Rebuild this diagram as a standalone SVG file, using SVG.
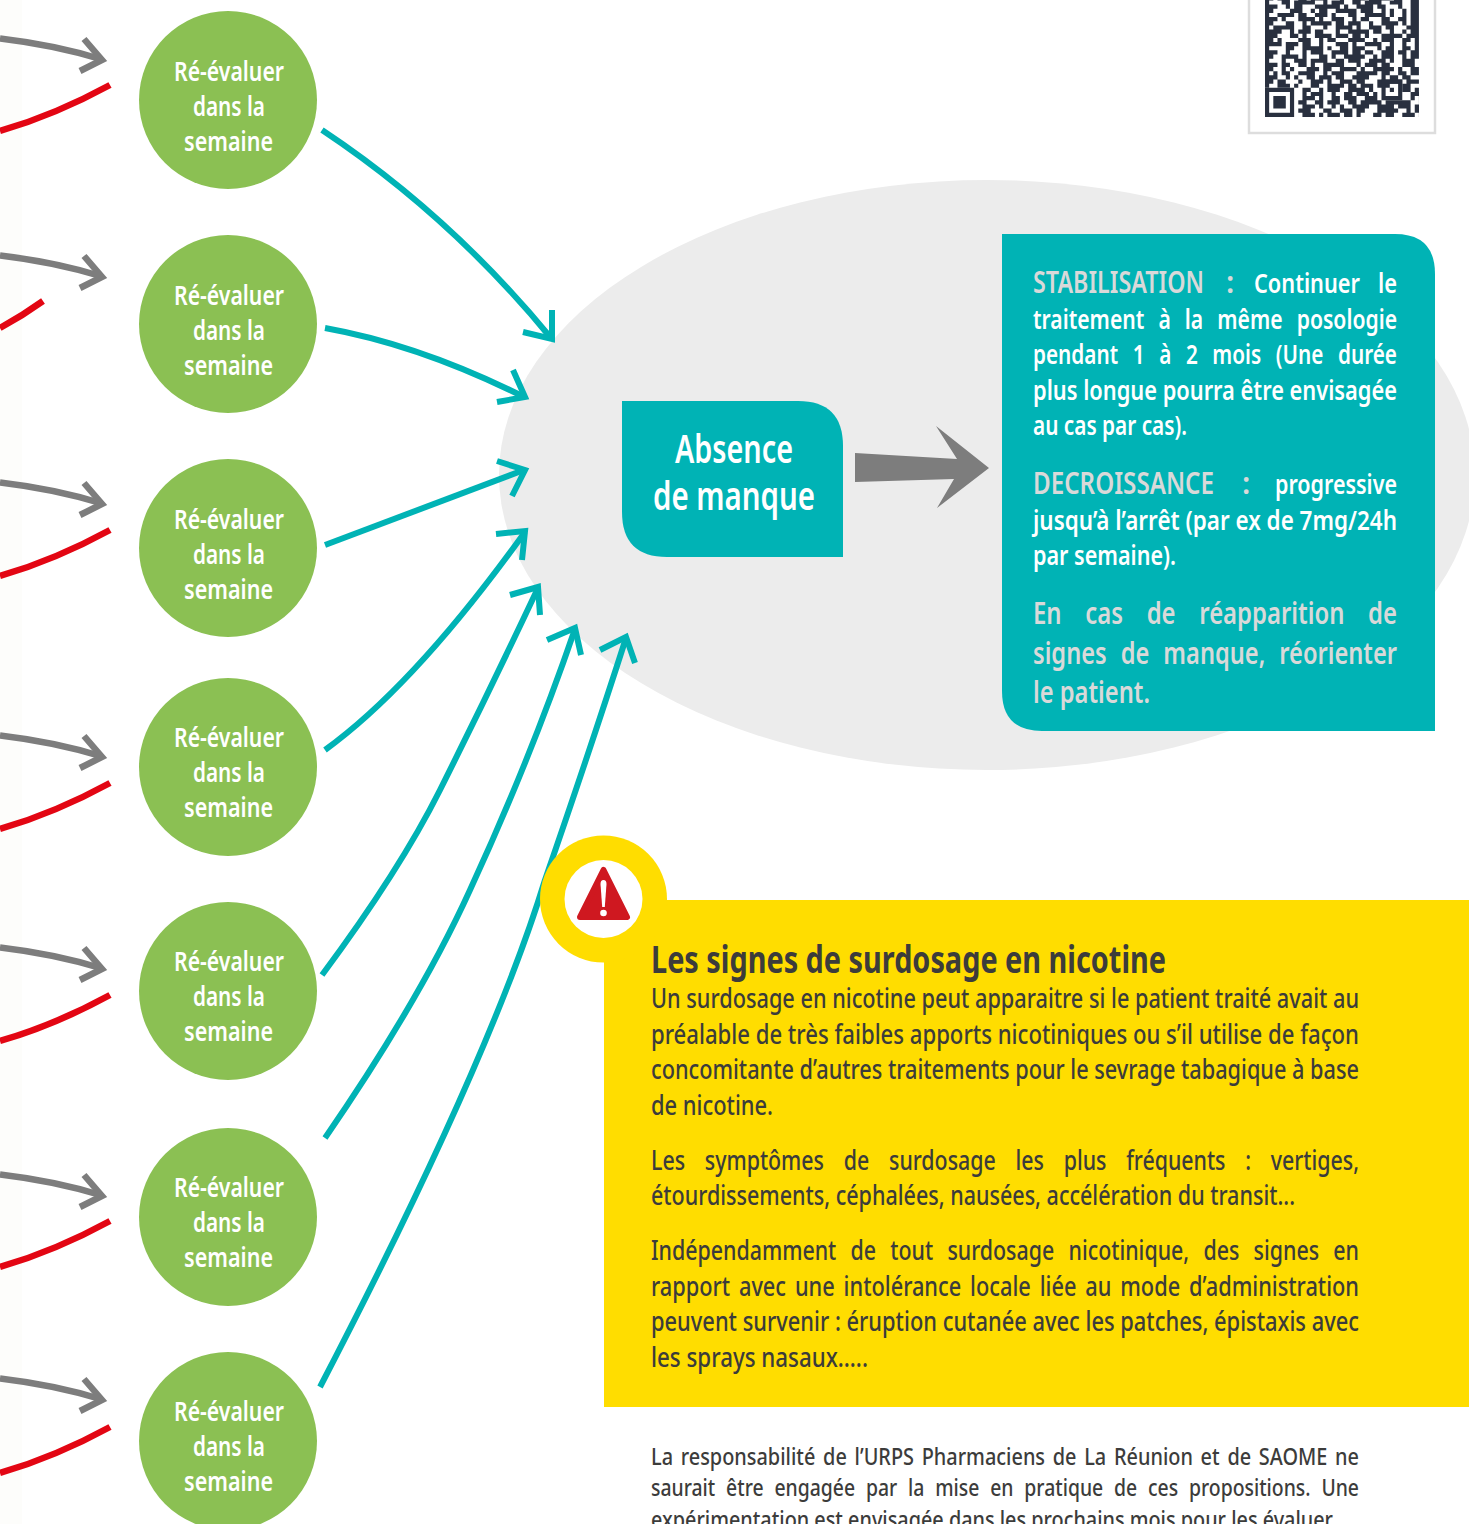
<svg xmlns="http://www.w3.org/2000/svg" width="1469" height="1524" viewBox="0 0 1469 1524">
<style>
text{font-family:"Noto Sans","Open Sans","Liberation Sans",sans-serif}
.n{fill:#8bc053}
.nt{fill:#fff;font-size:27px;font-weight:600;text-anchor:start}
.g{fill:none;stroke:#7d7d7d;stroke-width:6.5}
.r{fill:none;stroke:#e30613;stroke-width:6.5}
.t{fill:none;stroke:#00b3b5;stroke-width:6}
.w{fill:#fff;font-size:27px;font-weight:600}
.h{fill:#d9d9d9;font-size:30px;font-weight:600}
.b{fill:#3c3c3b;font-size:27px;font-weight:500}
.d{fill:#3c3c3b;font-size:23.5px;font-weight:500}
</style>
<defs>
<g id="ga"><path class="g" d="M0 38.5Q55 45 102 59.5"/><path class="g" d="M84 39L102 60L80 71"/></g>
<path id="ra" class="r" d="M0 131Q55 115 110 85"/>
<clipPath id="qc"><rect x="0" y="0" width="37" height="37"/></clipPath>
</defs>
<rect width="1469" height="1524" fill="#fff"/>
<rect width="22" height="1524" fill="#fdfdfb"/>
<g id="bubble"><ellipse cx="987" cy="475" rx="488" ry="295" fill="#ececec"/></g>
<g id="connectors">
<use href="#ga"/><use href="#ga" y="217"/><use href="#ga" y="444"/><use href="#ga" y="697"/><use href="#ga" y="909"/><use href="#ga" y="1136"/><use href="#ga" y="1340"/>
<use href="#ra"/><path class="r" d="M0 328Q22 316 43 301"/><use href="#ra" y="445"/><use href="#ra" y="698"/><use href="#ra" y="910"/><use href="#ra" y="1136"/><use href="#ra" y="1342"/>
<path class="t" d="M322 130Q450 215 551 338"/><path class="t" d="M552 310L552 339L523 332"/>
<path class="t" d="M325 328Q420 345 524 397"/><path class="t" d="M513 370L525 397L497 402"/>
<path class="t" d="M325 545L524 470"/><path class="t" d="M497 461L525 470L512 496"/>
<path class="t" d="M325 750Q415 685 525 532"/><path class="t" d="M496 534L525 531L522 560"/>
<path class="t" d="M322 975Q400 870 440 790Q490 690 538 588"/><path class="t" d="M510 595L538 587L540 615"/>
<path class="t" d="M325 1138Q420 1000 470 890Q530 760 575 629"/><path class="t" d="M547 640L575 628L581 655"/>
<path class="t" d="M320 1387Q490 1060 545 880Q590 750 626 638"/><path class="t" d="M600 650L626 637L635 663"/>
<polygon id="bigarrow" fill="#7d7d7d" points="855,453 957,459 936,426 989,468 937,508 954,479 855,482"/>
</g>
<g id="qr">
<rect x="1249" y="-5" width="186" height="138" fill="#fff" stroke="#ddd" stroke-width="2.5"/>
<g transform="translate(1265 -37) scale(4.16)" clip-path="url(#qc)">
<path fill="none" stroke="#29303f" stroke-width="1" d="M0 8.5h2m1 0h3m2 0h2m1 0h4m3 0h1m2 0h3m1 0h5m1 0h2m2 0h2M0 9.5h1m3 0h2m1 0h5m2 0h1m1 0h3m2 0h2m1 0h4m2 0h3m2 0h2M0 10.5h3m2 0h1m1 0h2m3 0h6m1 0h1m2 0h4m1 0h2m3 0h1m2 0h2M0 11.5h2m4 0h3m2 0h1m1 0h2m2 0h5m1 0h3m2 0h1m1 0h1m2 0h1m1 0h2M0 12.5h1m2 0h4m1 0h2m2 0h3m1 0h1m3 0h2m2 0h5m1 0h1m2 0h1m1 0h2M0 13.5h3m1 0h1m3 0h4m1 0h1m2 0h3m2 0h1m1 0h2m3 0h2m2 0h2m1 0h2M0 14.5h2m3 0h2m2 0h1m1 0h5m1 0h2m1 0h3m2 0h1m2 0h4m1 0h1m1 0h2M0 15.5h1m1 0h5m2 0h2m3 0h1m2 0h4m1 0h1m2 0h3m1 0h2m3 0h3M0 16.5h4m2 0h1m1 0h3m1 0h2m3 0h1m2 0h5m1 0h2m2 0h1m2 0h1m1 0h2M0 17.5h3m3 0h2m1 0h1m2 0h4m1 0h3m1 0h2m1 0h1m3 0h5m1 0h3M0 18.5h2m1 0h1m4 0h3m2 0h1m1 0h2m3 0h4m2 0h1m1 0h3m2 0h2m1 0h1M0 19.5h4m1 0h3m1 0h2m2 0h1m3 0h3m1 0h1m2 0h4m2 0h1m2 0h1m2 0h1M0 20.5h1m4 0h2m2 0h5m1 0h1m2 0h2m1 0h3m3 0h1m1 0h2m2 0h2m1 0h1M0 21.5h3m2 0h1m3 0h1m1 0h3m2 0h4m1 0h2m1 0h2m2 0h3m1 0h2m1 0h2M0 22.5h2m2 0h4m1 0h1m3 0h2m1 0h1m2 0h5m2 0h1m1 0h3m2 0h1m1 0h2M0 23.5h1m3 0h1m2 0h3m1 0h4m2 0h2m1 0h3m2 0h4m1 0h1m2 0h3M0 24.5h3m1 0h2m2 0h2m1 0h1m2 0h5m3 0h1m1 0h3m1 0h2m3 0h3M0 25.5h2m2 0h1m1 0h1m3 0h3m1 0h2m2 0h4m1 0h1m2 0h5m1 0h1m2 0h2M0 26.5h1m1 0h1m1 0h2m2 0h4m2 0h1m1 0h3m3 0h5m1 0h2m2 0h2m1 0h2M0 27.5h3m2 0h1m1 0h1m2 0h2m1 0h3m1 0h2m2 0h4m3 0h1m1 0h2m1 0h2M0 28.5h2m1 0h2m3 0h1m2 0h3m1 0h1m2 0h3m1 0h2m3 0h6m1 0h3M0 29.5h1m2 0h3m1 0h1m3 0h2m2 0h4m1 0h2m1 0h3m1 0h3m3 0h2M9 30.5h2m2 0h1m1 0h3m2 0h4m1 0h1m7 0h2m1 0h1M9 31.5h1m1 0h3m2 0h1m2 0h2m1 0h3m1 0h1m8 0h3M9 32.5h3m1 0h1m2 0h2m1 0h3m2 0h3m8 0h1m1 0h2M8 33.5h2m2 0h2m1 0h3m2 0h2m1 0h5m1 0h6m2 0h2M9 34.5h3m1 0h1m2 0h1m1 0h1m2 0h4m2 0h4m1 0h3m1 0h2M8 35.5h3m3 0h2m2 0h3m1 0h2m3 0h5m2 0h1m1 0h2M9 36.5h3m1 0h1m1 0h3m1 0h2m1 0h1m3 0h2m1 0h2m2 0h3m1 0h2"/>
<path fill="#29303f" fill-rule="evenodd" d="M0 30h7v7h-7zM1 31v5h5v-5zM2 32h3v3h-3zM28 28h5v5h-5zM29 29v3h3v-3zM30 30h1v1h-1z"/>
</g>
</g>
<g id="n1"><circle class="n" cx="228" cy="100" r="89"/><text class="nt" x="174" y="81" textLength="110" lengthAdjust="spacingAndGlyphs">Ré-évaluer</text><text class="nt" x="193" y="116" textLength="72" lengthAdjust="spacingAndGlyphs">dans la</text><text class="nt" x="184" y="151" textLength="89" lengthAdjust="spacingAndGlyphs">semaine</text></g>
<g id="n2"><circle class="n" cx="228" cy="324" r="89"/><text class="nt" x="174" y="305" textLength="110" lengthAdjust="spacingAndGlyphs">Ré-évaluer</text><text class="nt" x="193" y="340" textLength="72" lengthAdjust="spacingAndGlyphs">dans la</text><text class="nt" x="184" y="375" textLength="89" lengthAdjust="spacingAndGlyphs">semaine</text></g>
<g id="n3"><circle class="n" cx="228" cy="548" r="89"/><text class="nt" x="174" y="529" textLength="110" lengthAdjust="spacingAndGlyphs">Ré-évaluer</text><text class="nt" x="193" y="564" textLength="72" lengthAdjust="spacingAndGlyphs">dans la</text><text class="nt" x="184" y="599" textLength="89" lengthAdjust="spacingAndGlyphs">semaine</text></g>
<g id="n4"><circle class="n" cx="228" cy="767" r="89"/><text class="nt" x="174" y="747" textLength="110" lengthAdjust="spacingAndGlyphs">Ré-évaluer</text><text class="nt" x="193" y="782" textLength="72" lengthAdjust="spacingAndGlyphs">dans la</text><text class="nt" x="184" y="817" textLength="89" lengthAdjust="spacingAndGlyphs">semaine</text></g>
<g id="n5"><circle class="n" cx="228" cy="991" r="89"/><text class="nt" x="174" y="971" textLength="110" lengthAdjust="spacingAndGlyphs">Ré-évaluer</text><text class="nt" x="193" y="1006" textLength="72" lengthAdjust="spacingAndGlyphs">dans la</text><text class="nt" x="184" y="1041" textLength="89" lengthAdjust="spacingAndGlyphs">semaine</text></g>
<g id="n6"><circle class="n" cx="228" cy="1217" r="89"/><text class="nt" x="174" y="1197" textLength="110" lengthAdjust="spacingAndGlyphs">Ré-évaluer</text><text class="nt" x="193" y="1232" textLength="72" lengthAdjust="spacingAndGlyphs">dans la</text><text class="nt" x="184" y="1267" textLength="89" lengthAdjust="spacingAndGlyphs">semaine</text></g>
<g id="n7"><circle class="n" cx="228" cy="1441" r="89"/><text class="nt" x="174" y="1421" textLength="110" lengthAdjust="spacingAndGlyphs">Ré-évaluer</text><text class="nt" x="193" y="1456" textLength="72" lengthAdjust="spacingAndGlyphs">dans la</text><text class="nt" x="184" y="1491" textLength="89" lengthAdjust="spacingAndGlyphs">semaine</text></g>
<g id="absence">
<path fill="#00b3b5" d="M622 401H798Q843 401 843 446V557H667Q622 557 622 512Z"/>
<text fill="#fff" font-size="39" font-weight="600" x="675" y="463" textLength="118" lengthAdjust="spacingAndGlyphs">Absence</text>
<text fill="#fff" font-size="39" font-weight="600" x="653" y="510" textLength="162" lengthAdjust="spacingAndGlyphs">de manque</text>
</g>
<g id="stabilisation">
<path fill="#00b3b5" d="M1002 234H1395Q1435 234 1435 274V731H1042Q1002 731 1002 691Z"/>
<text class="h" x="1033" y="293" textLength="171" lengthAdjust="spacingAndGlyphs">STABILISATION</text>
<text class="h" x="1226" y="293">:</text>
<text class="w" x="1254" y="293" textLength="106" lengthAdjust="spacingAndGlyphs">Continuer</text>
<text class="w" x="1378" y="293" textLength="19" lengthAdjust="spacingAndGlyphs">le</text>
<text class="w" x="1033" y="329" textLength="364" lengthAdjust="spacingAndGlyphs" word-spacing="11">traitement à la même posologie</text>
<text class="w" x="1033" y="364" textLength="364" lengthAdjust="spacingAndGlyphs" word-spacing="12">pendant 1 à 2 mois (Une durée</text>
<text class="w" x="1033" y="400" textLength="364" lengthAdjust="spacingAndGlyphs">plus longue pourra être envisagée</text>
<text class="w" x="1033" y="435" textLength="154" lengthAdjust="spacingAndGlyphs">au cas par cas).</text>
<text class="h" x="1033" y="494" textLength="181" lengthAdjust="spacingAndGlyphs">DECROISSANCE</text>
<text class="h" x="1242" y="494">:</text>
<text class="w" x="1275" y="494" textLength="122" lengthAdjust="spacingAndGlyphs">progressive</text>
<text class="w" x="1033" y="530" textLength="364" lengthAdjust="spacingAndGlyphs">jusqu’à l’arrêt (par ex de 7mg/24h</text>
<text class="w" x="1033" y="565" textLength="143" lengthAdjust="spacingAndGlyphs">par semaine).</text>
<text class="h" x="1033" y="624" textLength="364" lengthAdjust="spacingAndGlyphs" word-spacing="22">En cas de réapparition de</text>
<text class="h" x="1033" y="664" textLength="364" lengthAdjust="spacingAndGlyphs" word-spacing="10">signes de manque, réorienter</text>
<text class="h" x="1033" y="703" textLength="117" lengthAdjust="spacingAndGlyphs">le patient.</text>
</g>
<g id="warning">
<rect x="604" y="900" width="865" height="507" fill="#ffdd00"/>
<circle cx="603.5" cy="899" r="63.5" fill="#ffdd00"/>
<circle cx="603.5" cy="899" r="39" fill="#fff"/>
<path fill="#cf1820" stroke="#cf1820" stroke-width="6" stroke-linejoin="round" d="M603.5 870L627 917H580Z"/>
<path fill="#fff" d="M600.5 884Q600.5 880 603.5 880Q606.5 880 606.5 884L604.8 907H602.2Z"/>
<circle cx="603.5" cy="913" r="3.3" fill="#fff"/>
<text fill="#3c3c3b" font-size="38" font-weight="700" x="651" y="973" textLength="515" lengthAdjust="spacingAndGlyphs">Les signes de surdosage en nicotine</text>
<text class="b" x="651" y="1008" textLength="708" lengthAdjust="spacingAndGlyphs">Un surdosage en nicotine peut apparaitre si le patient traité avait au</text>
<text class="b" x="651" y="1044" textLength="708" lengthAdjust="spacingAndGlyphs">préalable de très faibles apports nicotiniques ou s’il utilise de façon</text>
<text class="b" x="651" y="1079" textLength="708" lengthAdjust="spacingAndGlyphs">concomitante d’autres traitements pour le sevrage tabagique à base</text>
<text class="b" x="651" y="1115" textLength="122" lengthAdjust="spacingAndGlyphs">de nicotine.</text>
<text class="b" x="651" y="1170" textLength="708" lengthAdjust="spacingAndGlyphs" word-spacing="18">Les symptômes de surdosage les plus fréquents : vertiges,</text>
<text class="b" x="651" y="1205" textLength="644" lengthAdjust="spacingAndGlyphs">étourdissements, céphalées, nausées, accélération du transit...</text>
<text class="b" x="651" y="1260" textLength="708" lengthAdjust="spacingAndGlyphs" word-spacing="11">Indépendamment de tout surdosage nicotinique, des signes en</text>
<text class="b" x="651" y="1296" textLength="708" lengthAdjust="spacingAndGlyphs" word-spacing="4">rapport avec une intolérance locale liée au mode d’administration</text>
<text class="b" x="651" y="1331" textLength="708" lengthAdjust="spacingAndGlyphs">peuvent survenir : éruption cutanée avec les patches, épistaxis avec</text>
<text class="b" x="651" y="1367" textLength="217" lengthAdjust="spacingAndGlyphs">les sprays nasaux…..</text>
</g>
<g id="disclaimer">
<text class="d" x="651" y="1465" textLength="708" lengthAdjust="spacingAndGlyphs" word-spacing="3">La responsabilité de l’URPS Pharmaciens de La Réunion et de SAOME ne</text>
<text class="d" x="651" y="1496" textLength="708" lengthAdjust="spacingAndGlyphs" word-spacing="7">saurait être engagée par la mise en pratique de ces propositions. Une</text>
<text class="d" x="651" y="1528" textLength="682" lengthAdjust="spacingAndGlyphs">expérimentation est envisagée dans les prochains mois pour les évaluer</text>
</g>
</svg>
